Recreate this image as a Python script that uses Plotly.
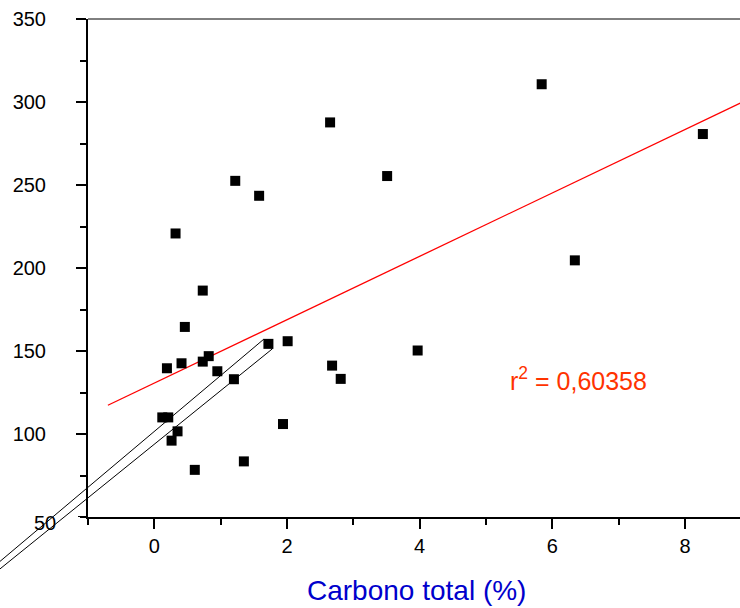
import plotly.graph_objects as go

# Data
carbono = [5.84, 8.27, 2.65, 3.51, 1.22, 1.58, 0.32, 6.34, 0.73, 0.46,
           0.19, 0.41, 0.73, 0.82, 0.95, 1.20, 1.72, 2.01, 0.12, 0.21,
           0.35, 0.26, 0.61, 1.35, 1.94, 2.68, 2.81, 3.97]
valor = [310.7, 280.7, 287.7, 255.4, 252.5, 243.5, 220.8, 204.6, 186.4, 164.5,
         139.6, 142.6, 143.6, 146.9, 137.8, 133.0, 154.3, 155.9, 110.0, 110.0,
         101.6, 96.0, 78.4, 83.5, 106.0, 141.2, 133.2, 150.3]

fit_x = [-0.70, 9.0]
fit_y = [117.3, 302.5]

x_tickvals = [0, 2, 4, 6, 8]
x_ticktext = ["0", "2", "4", "6", "8"]
y_tickvals = [100, 150, 200, 250, 300, 350]
y_ticktext = ["100", "150", "200", "250", "300", "350"]
y_bottom_label = "50"

r2_text = "r<sup>2</sup> = 0,60358"
x_title = "Carbono total (%)"

XR = [-1.0, 8.83]
YR = [50, 350]
PLOT_W = 740 - 88

# decorative outlined pointer (in data units, converted to paper)
pointer_pts = [(-3.0, 0.6), (1.65, 157.1), (1.78, 151.3), (-3.0, -3.0)]


def to_paper(x, y):
    return ((x - XR[0]) / (XR[1] - XR[0]), (y - YR[0]) / (YR[1] - YR[0]))


font_fam = "Liberation Sans, Arial, Helvetica, sans-serif"

fig = go.Figure()
fig.add_trace(go.Scatter(x=fit_x, y=fit_y, mode="lines",
                         line=dict(color="#FF0000", width=1.3),
                         hoverinfo="skip", showlegend=False))
fig.add_trace(go.Scatter(x=carbono, y=valor, mode="markers",
                         marker=dict(symbol="square", size=10, color="black",
                                     line=dict(width=0)),
                         showlegend=False, cliponaxis=False))

pp = [to_paper(*p) for p in pointer_pts]
path = "M {:.4f} {:.4f} ".format(*pp[0]) + " ".join(
    "L {:.4f} {:.4f}".format(*p) for p in pp[1:])
fig.add_shape(type="path", path=path, xref="paper", yref="paper",
              line=dict(color="black", width=1))
# top frame line
fig.add_shape(type="line", xref="paper", yref="paper", x0=0, x1=1, y0=1, y1=1,
              line=dict(color="black", width=1))
# major tick at the bottom of the y axis (y = 50)
fig.add_shape(type="line", xref="paper", yref="y", x0=-10 / PLOT_W, x1=0,
              y0=YR[0], y1=YR[0], line=dict(color="black", width=2))

fig.add_annotation(text=r2_text, x=6.40, y=133.4, xref="x", yref="y",
                   showarrow=False, font=dict(color="#FF3300", size=25, family=font_fam))
fig.add_annotation(text=x_title, x=0.504, y=-0.147, xref="paper", yref="paper",
                   showarrow=False, yanchor="middle",
                   font=dict(color="#0000CC", size=28, family=font_fam))
fig.add_annotation(text=y_bottom_label, x=-0.046, y=YR[0], xref="paper", yref="y",
                   xanchor="right", yanchor="middle", yshift=-6, showarrow=False,
                   font=dict(color="black", size=20, family=font_fam))

fig.update_layout(
    width=740, height=608,
    margin=dict(l=88, r=0, t=19, b=91),
    paper_bgcolor="white", plot_bgcolor="white",
    font=dict(family=font_fam, color="black", size=20),
)
fig.update_xaxes(range=XR, tickvals=x_tickvals, ticktext=x_ticktext,
                 showgrid=False, zeroline=False, showline=True, linecolor="black",
                 linewidth=2, ticks="outside", ticklen=10, tickwidth=2,
                 tickcolor="black", tickfont=dict(size=20),
                 minor=dict(dtick=1, tick0=-1, ticks="outside", ticklen=6,
                            tickwidth=2, tickcolor="black", showgrid=False))
fig.update_yaxes(range=YR, tickvals=y_tickvals, ticktext=y_ticktext,
                 showgrid=False, zeroline=False, showline=True, linecolor="black",
                 linewidth=2, ticks="outside", ticklen=10, tickwidth=2,
                 tickcolor="black", tickfont=dict(size=20), ticklabelstandoff=26,
                 minor=dict(dtick=25, tick0=50, ticks="outside", ticklen=6,
                            tickwidth=2, tickcolor="black", showgrid=False))

fig.write_html("out.html")
